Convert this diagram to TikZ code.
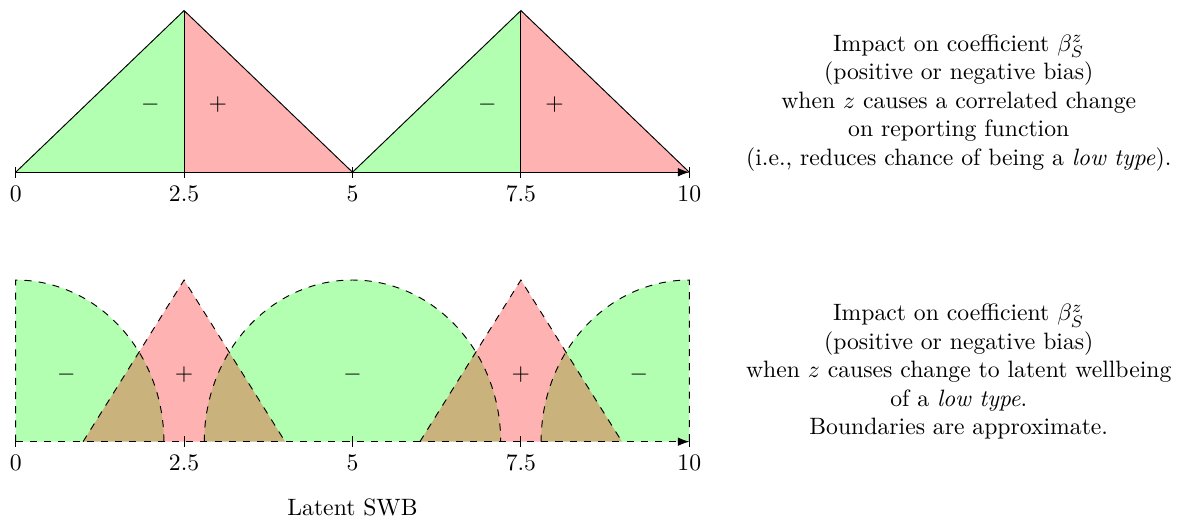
\documentclass[tikz,border=0pt]{standalone}
\usepackage{amsmath,amssymb}
\usepackage{xcolor}
\usepackage{tikz}
\usetikzlibrary{arrows.meta,calc,positioning}
\tikzset{
    posfill/.style={fill=red,fill opacity=0.3},
    negfill/.style={fill=green,fill opacity=0.3},
    note/.style={align=center}
}

\begin{document}
\begin{tikzpicture}[>=Latex]
    \useasboundingbox (-0.233,-1.207) rectangle (17.255,6.557);
    % top panel: shift in reporting function
    \begin{scope}[yshift=4cm]
    \fill[negfill] (0,0) -- (2.5,2.4) -- (2.5,0) -- cycle;
    \fill[posfill] (2.5,0) -- (2.5,2.4) -- (5,0) -- cycle;
    \fill[negfill] (5,0) -- (7.5,2.4) -- (7.5,0) -- cycle;
    \fill[posfill] (7.5,0) -- (7.5,2.4) -- (10,0) -- cycle;
    \draw (0,0) -- (2.5,2.4) -- (5,0) -- (7.5,2.4) -- (10,0);
    \draw (2.5,0) -- (2.5,2.4);
    \draw (7.5,0) -- (7.5,2.4);
    \draw[->] (0,0) -- (10,0);
    \foreach \x in {0,2.5,5,7.5,10} \draw (\x,0.08) -- (\x,-0.08) node[below] {$\x$};
    \node (tm1) at (2,1) {$-$};
    \node (tp1) at (3,1) {$+$};
    \node (tm2) at (7,1) {$-$};
    \node (tp2) at (8,1) {$+$};
    \end{scope}
    \node[note] (topnote) at (14,5.03) {Impact on coefficient $\beta_S^z$\\(positive or negative bias)\\when $z$ causes a correlated change\\on reporting function\\(i.e., reduces chance of being a \textit{low type}).};
    % bottom panel: shift in latent wellbeing
    \fill[negfill] (0,0) -- (0,2.4) arc[start angle=90,end angle=0,x radius=2.2,y radius=2.4] -- cycle;
    \fill[negfill] (2.8,0) arc[start angle=180,end angle=0,x radius=2.2,y radius=2.4] -- cycle;
    \fill[negfill] (7.8,0) arc[start angle=180,end angle=90,x radius=2.2,y radius=2.4] -- (10,0) -- cycle;
    \fill[posfill] (1,0) -- (2.5,2.4) -- (4,0) -- cycle;
    \fill[posfill] (6,0) -- (7.5,2.4) -- (9,0) -- cycle;
    \draw[dashed] (0,0) -- (0,2.4) arc[start angle=90,end angle=0,x radius=2.2,y radius=2.4];
    \draw[dashed] (2.8,0) arc[start angle=180,end angle=0,x radius=2.2,y radius=2.4];
    \draw[dashed] (7.8,0) arc[start angle=180,end angle=90,x radius=2.2,y radius=2.4] -- (10,0);
    \draw[dashed] (1,0) -- (2.5,2.4) -- (4,0);
    \draw[dashed] (6,0) -- (7.5,2.4) -- (9,0);
    \draw[dashed,->] (0,0) -- (10,0);
    \foreach \x in {0,2.5,5,7.5,10} \draw (\x,0.08) -- (\x,-0.08) node[below] {$\x$};
    \node (bm1) at (0.75,1) {$-$};
    \node (bp1) at (2.5,1) {$+$};
    \node (bm2) at (5,1) {$-$};
    \node (bp2) at (7.5,1) {$+$};
    \node (bm3) at (9.25,1) {$-$};
    \node[note] (botnote) at (14,1.04) {Impact on coefficient $\beta_S^z$\\(positive or negative bias)\\when $z$ causes change to latent wellbeing\\of a \textit{low type}.\\Boundaries are approximate.};
    \node (xlabel) at (5,-0.98) {Latent SWB};
\end{tikzpicture}
\end{document}
